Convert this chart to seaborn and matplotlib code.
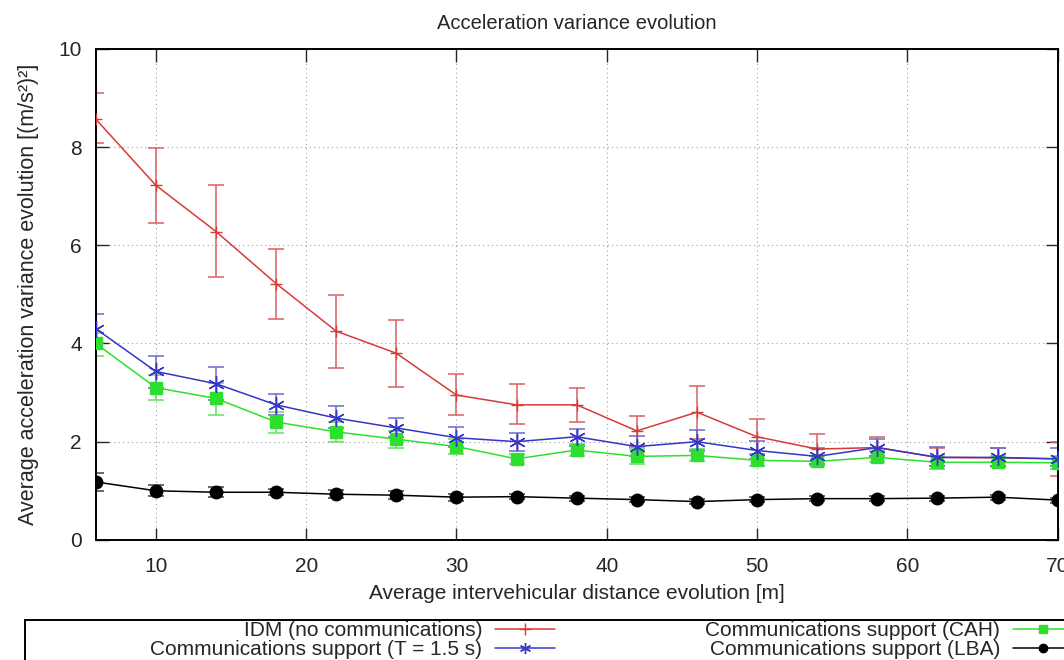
import matplotlib
matplotlib.use("Agg")
from matplotlib import pyplot as plt
from matplotlib.patches import Rectangle
import numpy as np
import pandas
import seaborn as sns

# distances (m)
distance = [6, 10, 14, 18, 22, 26, 30, 34, 38, 42, 46, 50, 54, 58, 62, 66, 70]

# IDM (no communications)
idm_mean = [8.57, 7.22, 6.28, 5.22, 4.25, 3.80, 2.95, 2.75, 2.75, 2.22, 2.60, 2.10, 1.85, 1.88, 1.68, 1.67, 1.65]
idm_low = [8.08, 6.45, 5.35, 4.50, 3.50, 3.12, 2.55, 2.35, 2.40, 1.90, 2.05, 1.75, 1.55, 1.70, 1.50, 1.50, 1.31]
idm_high = [9.10, 7.98, 7.22, 5.93, 4.98, 4.48, 3.37, 3.17, 3.10, 2.52, 3.14, 2.47, 2.15, 2.10, 1.88, 1.88, 1.99]

# Communications support (CAH)
cah_mean = [4.00, 3.10, 2.88, 2.40, 2.20, 2.05, 1.90, 1.65, 1.83, 1.70, 1.72, 1.62, 1.60, 1.68, 1.58, 1.58, 1.57]
cah_low = [3.75, 2.85, 2.55, 2.18, 2.00, 1.88, 1.75, 1.55, 1.70, 1.55, 1.60, 1.50, 1.50, 1.58, 1.45, 1.48, 1.45]
cah_high = [4.22, 3.35, 3.20, 2.60, 2.40, 2.22, 2.05, 1.75, 1.95, 1.85, 1.85, 1.75, 1.70, 1.80, 1.70, 1.70, 1.70]

# Communications support (T = 1.5 s)
t15_mean = [4.30, 3.43, 3.18, 2.75, 2.48, 2.28, 2.08, 2.00, 2.10, 1.90, 2.00, 1.82, 1.70, 1.88, 1.68, 1.68, 1.65]
t15_low = [4.00, 3.10, 2.85, 2.55, 2.28, 2.10, 1.90, 1.80, 1.92, 1.70, 1.80, 1.65, 1.55, 1.70, 1.50, 1.50, 1.50]
t15_high = [4.60, 3.75, 3.52, 2.97, 2.72, 2.48, 2.30, 2.17, 2.25, 2.12, 2.23, 2.02, 1.88, 2.05, 1.90, 1.88, 1.87]

# Communications support (LBA)
lba_mean = [1.18, 1.00, 0.97, 0.97, 0.93, 0.91, 0.87, 0.88, 0.85, 0.82, 0.78, 0.82, 0.84, 0.84, 0.85, 0.87, 0.81]
lba_low = [1.00, 0.90, 0.88, 0.92, 0.85, 0.83, 0.80, 0.83, 0.80, 0.77, 0.74, 0.77, 0.80, 0.80, 0.80, 0.82, 0.76]
lba_high = [1.37, 1.12, 1.07, 1.03, 1.02, 1.00, 0.93, 0.93, 0.90, 0.87, 0.83, 0.87, 0.89, 0.89, 0.90, 0.92, 0.86]

# name, values, low, high, line colour, error colour, marker, plot size, legend size
series = [
    ("IDM (no communications)", idm_mean, idm_low, idm_high, "#d83a3a", "#dd6060", "+", 9, 9),
    ("Communications support (CAH)", cah_mean, cah_low, cah_high, "#2ee02e", "#66dd66", "s", 9, 6),
    ("Communications support (T = 1.5 s)", t15_mean, t15_low, t15_high, "#3535c8", "#6a6acc", (6, 2, 0), 12, 8),
    ("Communications support (LBA)", lba_mean, lba_low, lba_high, "black", "#404040", "o", 9, 6),
]

sns.set_style("ticks")
plt.rcParams['font.family'] = ['Liberation Sans', 'DejaVu Sans']

fig = plt.figure(figsize=(10.64, 6.6), dpi=100)
ax = fig.add_axes([0.090, 0.182, 0.904, 0.744])

handles = {}
for name, mean, low, high, color, ecolor, marker, msize, lsize in series:
    df = pandas.DataFrame({'distance': distance, 'value': mean})
    mean_a = np.array(mean)
    yerr = [mean_a - np.array(low), np.array(high) - mean_a]
    ax.errorbar(distance, mean, yerr=yerr, fmt='none', ecolor=ecolor, elinewidth=1.1, capsize=6, capthick=1.1, zorder=2)
    sns.lineplot(data=df, x='distance', y='value', ax=ax, color=color, linewidth=1.1, legend=False,
                 marker=marker, markersize=msize, markeredgecolor=color, markeredgewidth=1.0, zorder=3)
    h, = ax.plot([], [], color=color, linewidth=1.1, marker=marker, markersize=lsize,
                 markeredgecolor=color, markeredgewidth=1.0, label=name)
    handles[name] = h

ax.set_xlim(6, 70)
ax.set_ylim(0, 10)
ax.set_xticks([10, 20, 30, 40, 50, 60, 70])
ax.set_yticks([0, 2, 4, 6, 8, 10])
ax.grid(True, color='#a0a0a0', linestyle=(0, (1, 3)), linewidth=0.8)
ax.tick_params(direction='in', length=9, width=1, top=True, right=True, labelsize=15)
ax.tick_params(axis='x', pad=12)
ax.tick_params(axis='y', pad=10)
for sp in ax.spines.values():
    sp.set_linewidth(1.4)
    sp.set_color('black')

ax.set_xlabel('Average intervehicular distance evolution [m]', fontsize=15, labelpad=6)
ax.set_ylabel('Average acceleration variance evolution [(m/s²)²]', fontsize=15.5, labelpad=14)
ax.set_title('Acceleration variance evolution', fontsize=14.5, pad=14)

order = [handles[s[0]] for s in (series[0], series[2], series[1], series[3])]
leg = fig.legend(handles=order, labels=[h.get_label() for h in order], ncol=2,
                 loc='upper right', bbox_to_anchor=(1073 / 1064, 1 - 621 / 660),
                 markerfirst=False, frameon=False, fontsize=15, handlelength=2.9,
                 handletextpad=0.6, labelspacing=0.02, borderpad=0.0, borderaxespad=0.0,
                 columnspacing=7.2)

# legend box running off the bottom/right of the page
fig.patches.append(Rectangle((25 / 1064, -0.1), 1.2, 0.1 + (1 - 620 / 660), transform=fig.transFigure,
                             fill=False, edgecolor='black', linewidth=1.4))

fig.savefig('out.png', dpi=100)
